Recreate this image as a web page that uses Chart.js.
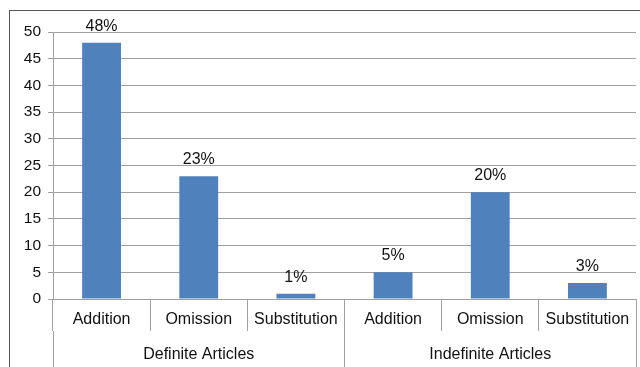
<!DOCTYPE html>
<html>
<head>
<meta charset="utf-8">
<script src="https://cdn.jsdelivr.net/npm/chart.js@4.4.1/dist/chart.umd.min.js"></script>
<style>
  html, body { margin: 0; padding: 0; background: #fff; }
  body { width: 640px; height: 367px; position: relative; overflow: hidden; }
  #frame { position: absolute; left: 9px; top: 10px; width: 700px; height: 400px; border: 1px solid #555; box-sizing: border-box; }
  #wrap { position: absolute; left: 0; top: 0; width: 640px; height: 367px; }
</style>
</head>
<body>
<div id="frame"></div>
<div id="wrap"><canvas id="c" width="640" height="367"></canvas></div>
<script>
// Error types per article group
const errorTypes = ['Addition', 'Omission', 'Substitution', 'Addition', 'Omission', 'Substitution'];
const articleGroups = ['Definite Articles', 'Indefinite Articles'];
const percentages = [48, 23, 1, 5, 20, 3];
const yTicks = [0, 5, 10, 15, 20, 25, 30, 35, 40, 45, 50];

const FONT = "'Liberation Sans', Arial, sans-serif";
const GRID = '#a0a0a0';

// Writes the percentage above each bar
const valueLabels = {
  id: 'valueLabels',
  afterDatasetsDraw(chart) {
    const ctx = chart.ctx;
    const meta = chart.getDatasetMeta(0);
    ctx.save();
    ctx.font = '16px ' + FONT;
    ctx.fillStyle = '#111';
    ctx.textAlign = 'center';
    ctx.textBaseline = 'middle';
    meta.data.forEach((bar, i) => {
      const v = chart.data.datasets[0].data[i];
      ctx.fillText(v + '%', bar.x, bar.y - 16.5);
    });
    ctx.restore();
  }
};

new Chart(document.getElementById('c'), {
  type: 'bar',
  data: {
    labels: errorTypes,
    datasets: [{
      data: percentages,
      backgroundColor: '#4f81bd',
      borderWidth: 0,
      categoryPercentage: 1,
      barPercentage: 0.4
    }]
  },
  options: {
    responsive: false,
    animation: false,
    devicePixelRatio: 1,
    layout: { padding: { top: 32, right: 4, left: 0, bottom: 0 } },
    plugins: { legend: { display: false }, tooltip: { enabled: false } },
    scales: {
      y: {
        min: 0,
        max: 50,
        afterBuildTicks(scale) { scale.ticks = yTicks.map(v => ({ value: v })); },
        afterFit(scale) { scale.width = 53; },
        grid: { color: GRID, lineWidth: 1, tickLength: 5, drawTicks: true },
        border: { display: true, color: GRID, width: 1 },
        ticks: { color: '#111', font: { family: FONT, size: 15.5 }, padding: 7 }
      },
      x: {
        position: 'bottom',
        afterFit(scale) { scale.height = 32; },
        grid: { offset: true, drawOnChartArea: false, color: GRID, tickLength: 32 },
        border: { display: true, color: GRID, width: 1 },
        ticks: { color: '#111', font: { family: FONT, size: 16 }, padding: -21, maxRotation: 0, autoSkip: false }
      },
      x2: {
        type: 'category',
        position: 'bottom',
        labels: articleGroups,
        afterFit(scale) { scale.height = 36; },
        grid: { offset: true, drawOnChartArea: false, color: GRID, tickLength: 36 },
        border: { display: false },
        ticks: { color: '#111', font: { family: FONT, size: 16 }, padding: -22, maxRotation: 0, autoSkip: false }
      }
    }
  },
  plugins: [valueLabels]
});
</script>
</body>
</html>
